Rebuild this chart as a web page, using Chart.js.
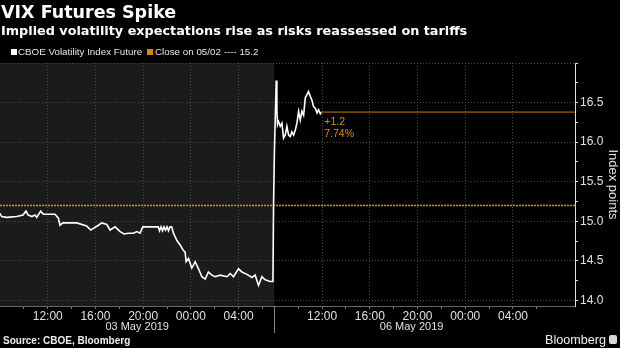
<!DOCTYPE html>
<html>
<head>
<meta charset="utf-8">
<script src="https://cdn.jsdelivr.net/npm/chart.js@4/dist/chart.umd.min.js"></script>
<style>
  html, body { margin: 0; padding: 0; background: #000; overflow: hidden; }
  #wrap { position: relative; width: 620px; height: 348px; background: #000; color: #fff; font-family: 'Liberation Sans', Arial, sans-serif; }
  #chart { position: absolute; left: 0; top: 0; }
  .abs { position: absolute; white-space: nowrap; z-index: 2; }
  #title { left: 1px; top: 2px; font: bold 17.5px/20px 'DejaVu Sans', sans-serif; }
  #subtitle { left: 1px; top: 23px; font: bold 12.8px/15px 'DejaVu Sans', sans-serif; }
  .leg { top: 46px; font: 9.8px/11px 'Liberation Sans', Arial, sans-serif; color: #e4e4e4; }
  .sw { position: absolute; top: 49px; width: 6px; height: 6px; z-index: 2; }
  #source { left: 3px; top: 335px; font: bold 10px/12px 'Liberation Sans', Arial, sans-serif; color: #eee; }
  #brand { right: 14px; top: 333px; font: 12.6px/14px 'Liberation Sans', Arial, sans-serif; color: #eee; }
  #logo { right: 3px; top: 335px; width: 8px; height: 9px; background: #d8d8d8; border-radius: 2px; }
</style>
</head>
<body>
<div id="wrap">
  <canvas id="chart" width="620" height="348"></canvas>
  <div class="abs" id="title">VIX Futures Spike</div>
  <div class="abs" id="subtitle">Implied volatility expectations rise as risks reassessed on tariffs</div>
  <div class="sw" style="left:11px;background:#fff"></div>
  <div class="abs leg" style="left:18px">CBOE Volatility Index Future</div>
  <div class="sw" style="left:147px;background:#d9860f"></div>
  <div class="abs leg" style="left:155px">Close on 05/02 ---- 15.2</div>
  <div class="abs" id="source">Source: CBOE, Bloomberg</div>
  <div class="abs" id="brand">Bloomberg</div>
  <div class="abs" id="logo"></div>
</div>
<script>
// x values are hours counted from 08:00 on 03 May; the weekend gap is collapsed at hour 23
var may03Hours = [0, 0.14, 0.56, 1.40, 1.93, 2.18, 2.35, 2.66, 2.94, 3.08, 3.41, 3.63, 4.61, 4.89, 5.03,
  5.26, 6.43, 7.27, 7.61, 7.83, 8.25, 8.53, 8.95, 9.23, 9.65, 10.07, 10.40, 10.76, 11.18, 11.47,
  11.74, 11.97, 12.31, 13.15, 13.27, 13.37, 13.50, 13.62, 13.75, 13.87, 14.00, 14.12, 14.25, 14.39, 14.54,
  14.82, 15.10, 15.38, 15.52, 15.60, 15.80, 16.08, 16.36, 16.64, 16.92, 17.20, 17.47, 17.76, 18.04, 18.46,
  19.02, 19.30, 19.57, 19.99, 20.28, 20.70, 21.12, 21.39, 21.67, 21.95, 22.23, 22.65, 22.88];
var may03Values = [15.10, 15.06, 15.05, 15.06, 15.08, 15.13, 15.08, 15.06, 15.08, 15.05, 15.13, 15.09, 15.09, 15.04, 14.95,
  14.98, 14.98, 14.94, 14.89, 14.91, 14.95, 14.98, 14.96, 14.89, 14.93, 14.87, 14.84, 14.85, 14.85, 14.87,
  14.85, 14.93, 14.93, 14.93, 14.93, 14.88, 14.93, 14.88, 14.93, 14.89, 14.93, 14.88, 14.93, 14.93, 14.85,
  14.76, 14.70, 14.63, 14.61, 14.49, 14.53, 14.41, 14.49, 14.40, 14.30, 14.27, 14.36, 14.32, 14.30, 14.32,
  14.30, 14.34, 14.30, 14.40, 14.36, 14.33, 14.29, 14.32, 14.19, 14.30, 14.26, 14.24, 14.24];
var may06Hours = [22.93, 23.00, 23.15, 23.21, 23.26, 23.35, 23.49, 23.63, 23.77, 23.91, 24.05, 24.19, 24.33, 24.47, 24.61,
  24.75, 24.89, 25.03, 25.17, 25.31, 25.45, 25.59, 25.73, 25.86, 26.01, 26.15, 26.28, 26.43, 26.57, 26.70,
  26.85, 26.93];
var may06Values = [15.20, 15.85, 16.78, 16.41, 16.22, 16.26, 16.20, 16.24, 16.05, 16.09, 16.20, 16.09, 16.07, 16.13, 16.09,
  16.15, 16.24, 16.39, 16.28, 16.39, 16.34, 16.56, 16.60, 16.64, 16.58, 16.53, 16.45, 16.43, 16.37, 16.41,
  16.36, 16.38];

var priorClose = 15.2;
var changeLabels = ['+1.2', '7.74%'];
var sessionBreak = 23;
var xMin = 0, xMax = 48.2;
var xMajorTicks = [4, 8, 12, 16, 20, 27, 31, 35, 39, 43];
var xMajorLabels = ['12:00', '16:00', '20:00', '00:00', '04:00', '12:00', '16:00', '20:00', '00:00', '04:00'];
var xMinorTicks = [2, 6, 10, 14, 18, 22, 25, 29, 33, 37, 41, 45];
var dayLabels = ['03 May 2019', '06 May 2019'];
var dayCentres = [11.5, 34.5];
var yMin = 13.93, yMax = 17.0;
var yMajorTicks = [14.0, 14.5, 15.0, 15.5, 16.0, 16.5];
var yMinorTicks = [14.25, 14.75, 15.25, 15.75, 16.25, 16.75, 17.0];

var orange = '#e08a10';

function toPoints(xs, ys) {
  return xs.map(function (x, i) { return { x: x, y: ys[i] }; });
}

var vixPoints = toPoints(may03Hours, may03Values).concat(toPoints(may06Hours, may06Values));
var lastPoint = vixPoints[vixPoints.length - 1];

var sessionPlugin = {
  id: 'sessions',
  beforeDraw: function (chart) {
    var ctx = chart.ctx, a = chart.chartArea, x = chart.scales.x;
    var xb = x.getPixelForValue(sessionBreak);
    ctx.save();
    ctx.fillStyle = '#1b1b1b';
    ctx.fillRect(a.left, a.top, xb - a.left, a.bottom - a.top);
    ctx.restore();
  },
  beforeDatasetsDraw: function (chart) {
    var ctx = chart.ctx, a = chart.chartArea, x = chart.scales.x;
    var xb = Math.round(x.getPixelForValue(sessionBreak)) + 0.5;
    ctx.save();
    ctx.strokeStyle = '#8a8a8a';
    ctx.lineWidth = 1;
    ctx.beginPath();
    ctx.moveTo(xb, a.bottom);
    ctx.lineTo(xb, a.bottom + 27);
    ctx.stroke();
    ctx.restore();
  },
  afterDraw: function (chart) {
    var ctx = chart.ctx, a = chart.chartArea, x = chart.scales.x, y = chart.scales.y;
    ctx.save();
    ctx.fillStyle = '#e0e0e0';
    ctx.font = '11px "Liberation Sans", Arial, sans-serif';
    ctx.textAlign = 'center';
    ctx.textBaseline = 'alphabetic';
    dayLabels.forEach(function (lbl, i) {
      ctx.fillText(lbl, x.getPixelForValue(dayCentres[i]), a.bottom + 24);
    });
    ctx.fillStyle = orange;
    ctx.font = '10.5px "Liberation Sans", Arial, sans-serif';
    ctx.textAlign = 'left';
    var lx = x.getPixelForValue(lastPoint.x) + 3;
    var ly = y.getPixelForValue(lastPoint.y);
    ctx.fillText(changeLabels[0], lx, ly + 13);
    ctx.fillText(changeLabels[1], lx, ly + 24.5);
    ctx.restore();
  }
};

window.onload = function () {
  var ctx = document.getElementById('chart').getContext('2d');

  new Chart(ctx, {
    type: 'line',
    data: {
      datasets: [
        {
          label: 'CBOE Volatility Index Future',
          data: vixPoints,
          borderColor: '#ffffff',
          borderWidth: 1.6,
          pointRadius: 0,
          order: 1
        },
        {
          label: 'Close on 05/02',
          data: [{ x: xMin, y: priorClose }, { x: xMax, y: priorClose }],
          borderColor: orange,
          borderWidth: 1.3,
          borderDash: [2, 1],
          pointRadius: 0,
          order: 2
        },
        {
          label: 'Last',
          data: [{ x: lastPoint.x, y: lastPoint.y }, { x: xMax, y: lastPoint.y }],
          borderColor: '#c97b0c',
          borderWidth: 1,
          pointRadius: 0,
          order: 3
        }
      ]
    },
    options: {
      responsive: false,
      animation: false,
      layout: { padding: { top: 63, bottom: 25, left: 0, right: 0 } },
      plugins: {
        legend: { display: false },
        tooltip: { enabled: false }
      },
      scales: {
        x: {
          type: 'linear',
          min: xMin,
          max: xMax,
          afterFit: function (scale) { scale.height = 17; },
          afterBuildTicks: function (scale) {
            scale.ticks = xMajorTicks.concat(xMinorTicks).sort(function (a, b) { return a - b; })
              .map(function (v) { return { value: v }; });
          },
          ticks: {
            autoSkip: false,
            maxRotation: 0,
            padding: 0,
            color: '#e0e0e0',
            font: { size: 12, family: '"Liberation Sans", Arial, sans-serif' },
            callback: function (value) {
              var i = xMajorTicks.indexOf(value);
              return i >= 0 ? xMajorLabels[i] : '';
            }
          },
          grid: {
            color: function (c) {
              return c.tick && xMajorTicks.indexOf(c.tick.value) >= 0 ? '#4a4a4a' : 'rgba(0,0,0,0)';
            },
            tickColor: '#777',
            tickLength: 3
          },
          border: { color: '#666', width: 1, dash: [1, 2] }
        },
        y: {
          position: 'right',
          min: yMin,
          max: yMax,
          afterFit: function (scale) { scale.width = 45; },
          afterBuildTicks: function (scale) {
            scale.ticks = yMajorTicks.concat(yMinorTicks).sort(function (a, b) { return a - b; })
              .map(function (v) { return { value: v }; });
          },
          ticks: {
            autoSkip: false,
            padding: 2,
            color: '#e0e0e0',
            font: { size: 12, family: '"Liberation Sans", Arial, sans-serif' },
            callback: function (value) {
              return yMajorTicks.indexOf(value) >= 0 ? value.toFixed(1) : '';
            }
          },
          grid: {
            color: function (c) {
              if (!c.tick) return 'rgba(0,0,0,0)';
              var v = c.tick.value;
              return (yMajorTicks.indexOf(v) >= 0 || v === yMax) ? '#4a4a4a' : 'rgba(0,0,0,0)';
            },
            tickColor: '#dddddd',
            tickLength: 3
          },
          border: { color: '#dddddd', width: 1, dash: [1, 2] },
          title: {
            display: true,
            text: 'Index points',
            color: '#e0e0e0',
            padding: { top: 0, bottom: 0 },
            font: { size: 13, family: '"Liberation Sans", Arial, sans-serif' }
          }
        }
      }
    },
    plugins: [sessionPlugin]
  });
};
</script>
</body>
</html>
